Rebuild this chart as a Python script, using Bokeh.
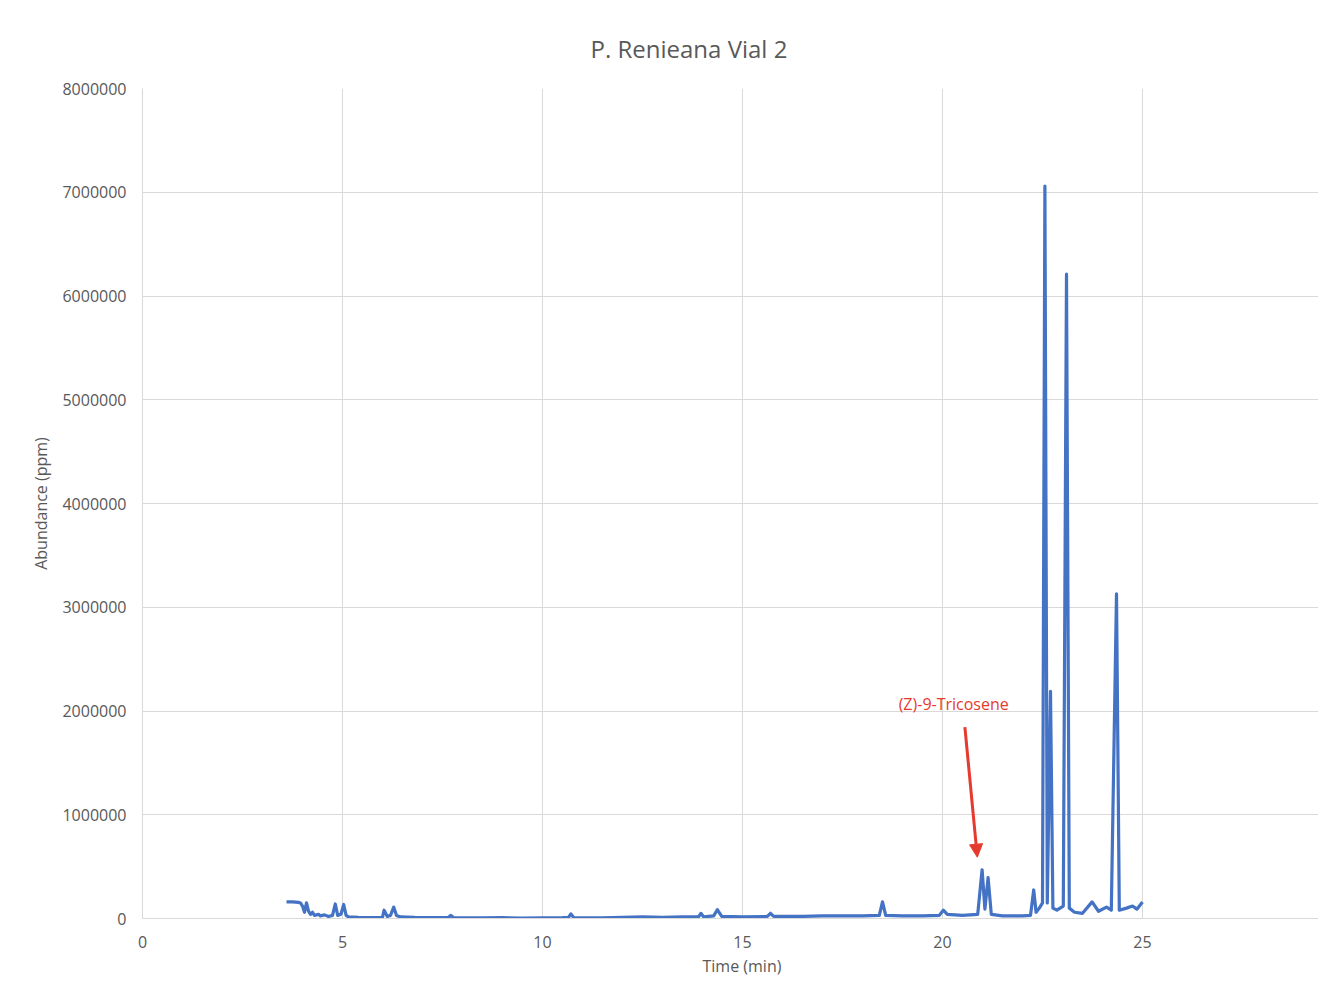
from bokeh.plotting import figure
from bokeh.models import FixedTicker, BasicTickFormatter, Arrow, NormalHead, Label, Range1d, Title
from bokeh.embed import file_html
from bokeh.resources import INLINE

# Chromatogram trace
time_min = [3.60, 3.75, 3.90, 3.95, 4.00, 4.05, 4.10, 4.15, 4.20, 4.25, 4.30, 4.40, 4.45, 4.55, 4.65,
            4.75, 4.82, 4.88, 4.96, 5.03, 5.09, 5.15, 5.40, 5.80, 6.00, 6.04, 6.12, 6.20, 6.28, 6.35,
            6.45, 6.80, 7.20, 7.65, 7.71, 7.78, 8.50, 9.00, 9.50, 10.00, 10.50, 10.65, 10.71, 10.78,
            11.50, 12.00, 12.50, 13.00, 13.50, 13.90, 13.96, 14.03, 14.28, 14.37, 14.48, 15.00, 15.62,
            15.70, 15.78, 16.50, 17.00, 17.50, 18.00, 18.42, 18.50, 18.58, 19.00, 19.50, 19.92, 20.02,
            20.12, 20.50, 20.88, 20.99, 21.06, 21.14, 21.22, 21.50, 22.00, 22.20, 22.28, 22.34, 22.42,
            22.50, 22.56, 22.62, 22.70, 22.76, 22.86, 23.02, 23.10, 23.17, 23.30, 23.50, 23.74, 23.90,
            24.10, 24.22, 24.35, 24.42, 24.60, 24.75, 24.86, 25.00]
abundance = [160000, 160000, 155000, 150000, 120000, 60000, 150000, 70000, 40000, 60000, 30000, 40000,
             25000, 35000, 20000, 30000, 140000, 30000, 40000, 135000, 30000, 15000, 10000, 8000, 12000,
             80000, 20000, 30000, 110000, 30000, 15000, 10000, 8000, 12000, 30000, 8000, 6000, 8000, 5000,
             6000, 8000, 10000, 45000, 8000, 7000, 10000, 15000, 12000, 15000, 15000, 50000, 15000, 25000,
             85000, 20000, 15000, 20000, 50000, 20000, 20000, 25000, 25000, 25000, 30000, 160000, 30000,
             25000, 25000, 30000, 80000, 40000, 30000, 40000, 470000, 90000, 395000, 40000, 25000, 25000,
             30000, 275000, 60000, 100000, 150000, 7060000, 150000, 2190000, 100000, 80000, 120000,
             6210000, 100000, 60000, 50000, 160000, 70000, 110000, 80000, 3130000, 80000, 100000,
             120000, 90000, 160000]

x_ticks = [0, 5, 10, 15, 20, 25]
y_ticks = [0, 1000000, 2000000, 3000000, 4000000, 5000000, 6000000, 7000000, 8000000]

x_title = "Time (min)"
annotation_text = "(Z)-9-Tricosene"
arrow_start = (20.56, 1844000)
arrow_end = (20.87, 591000)
label_pos = (20.28, 2063000)

grey = "#595959"
gridc = "#D9D9D9"
blue = "#4472C4"
red = "#E63A2E"
font = "Open Sans"

p = figure(width=1318, height=982, output_backend="svg", toolbar_location=None,
           x_range=Range1d(0, 29.4), y_range=Range1d(0, 8000000),
           min_border_left=142, min_border_top=88, min_border_bottom=64, min_border_right=0,
           title="P. Renieana Vial 2")
p.outline_line_color = None
p.background_fill_color = "white"
p.border_fill_color = "white"

p.title.text_font = font
p.title.text_font_size = "24px"
p.title.text_font_style = "normal"
p.title.text_color = grey
p.title.align = "left"
p.title.offset = 448
p.title.standoff = 47

p.line(time_min, abundance, line_color=blue, line_width=3.2, line_join="round")

p.xaxis.ticker = FixedTicker(ticks=x_ticks)
p.yaxis.ticker = FixedTicker(ticks=y_ticks)
p.yaxis.formatter = BasicTickFormatter(use_scientific=False)

for ax in (p.xaxis, p.yaxis):
    ax.axis_line_color = gridc
    ax.major_tick_line_color = None
    ax.major_tick_out = 0
    ax.major_tick_in = 0
    ax.minor_tick_line_color = None
    ax.minor_tick_out = 0
    ax.major_label_text_font = font
    ax.major_label_text_font_size = "16px"
    ax.major_label_text_color = grey
    ax.axis_label_text_font = font
    ax.axis_label_text_font_size = "16px"
    ax.axis_label_text_font_style = "normal"
    ax.axis_label_text_color = grey

p.yaxis.axis_label = "Abundance (ppm)"
p.xaxis.major_label_standoff = 17
p.yaxis.major_label_standoff = 16
p.yaxis.axis_label_standoff = 7

p.xgrid.ticker = FixedTicker(ticks=x_ticks)
p.ygrid.ticker = FixedTicker(ticks=y_ticks)
p.grid.grid_line_color = gridc
p.grid.grid_line_width = 1

p.add_layout(Title(text=x_title, align="left", offset=560, standoff=5,
                   text_font=font, text_font_size="16px", text_font_style="normal",
                   text_color=grey), "below")

p.add_layout(Arrow(end=NormalHead(size=13, fill_color=red, line_color=red),
                   x_start=arrow_start[0], y_start=arrow_start[1],
                   x_end=arrow_end[0], y_end=arrow_end[1],
                   line_color=red, line_width=3))
p.add_layout(Label(x=label_pos[0], y=label_pos[1], text=annotation_text,
                   text_align="center", text_baseline="middle", text_color=red,
                   text_font=font, text_font_size="16px"))

open("out.html", "w").write(file_html(p, INLINE))
